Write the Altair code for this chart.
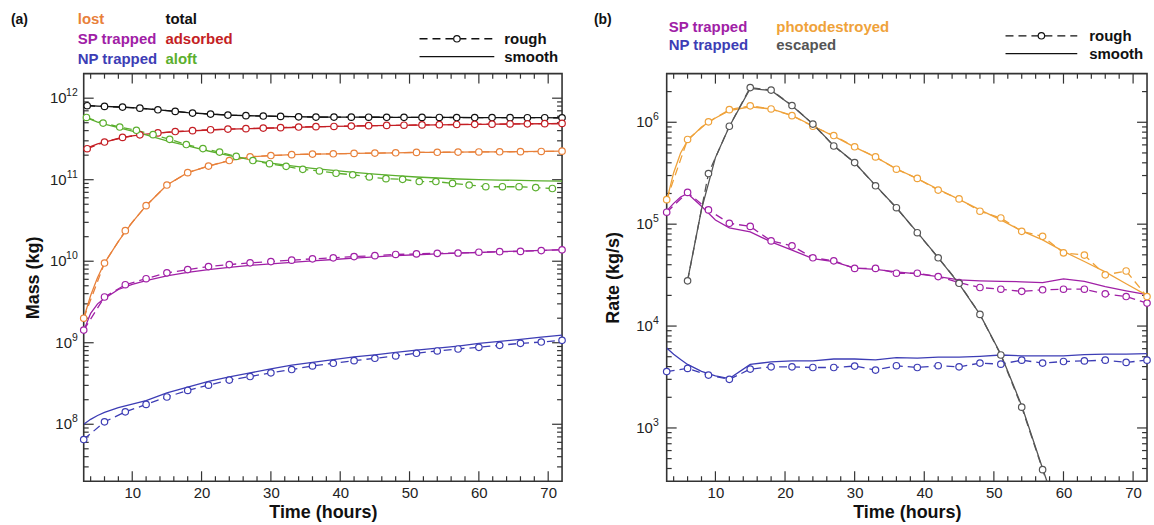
import altair as alt
import pandas as pd

FONT = "Liberation Sans"

# ---------------- panel (a) data ----------------
t_3h = [3, 6, 9, 12, 15, 18, 21, 24, 27, 30, 33, 36, 39, 42, 45, 48, 51, 54, 57, 60, 63, 66, 69, 72]
t_dense = [3.5, 6.0, 8.6, 11.1, 13.7, 16.2, 18.7, 21.3, 23.8, 26.4, 28.9, 31.4, 34.0, 36.5,
           39.1, 41.6, 44.1, 46.7, 49.2, 51.8, 54.3, 56.8, 59.4, 61.9, 64.5, 67.0, 69.5, 72.0]
t_aloft = [3.4, 5.8, 8.2, 10.6, 13.0, 15.4, 17.8, 20.2, 22.6, 25.0, 27.4, 29.8, 32.2, 34.6, 37.0,
           39.4, 41.8, 44.2, 46.6, 49.0, 51.4, 53.8, 56.2, 58.6, 61.0, 63.4, 65.8, 68.2, 70.6]
t_smooth = [3, 4, 5, 6, 8, 10, 12, 15, 18, 21, 24, 27, 30, 33, 36, 39, 42, 45, 48, 51, 54, 57, 60, 63, 66, 69, 72]

total_rough = [8.08e11, 7.93e11, 7.77e11, 7.55e11, 7.21e11, 6.88e11, 6.57e11, 6.38e11, 6.21e11, 6.10e11,
               6.04e11, 5.98e11, 5.90e11, 5.87e11, 5.86e11, 5.85e11, 5.84e11, 5.83e11, 5.82e11, 5.81e11,
               5.80e11, 5.79e11, 5.78e11, 5.78e11, 5.77e11, 5.76e11, 5.76e11, 5.75e11]
adsorbed_rough = [2.4e11, 2.9e11, 3.3e11, 3.55e11, 3.75e11, 3.9e11, 4.0e11, 4.1e11, 4.18e11, 4.23e11,
                  4.3e11, 4.35e11, 4.43e11, 4.47e11, 4.5e11, 4.55e11, 4.6e11, 4.63e11, 4.66e11, 4.7e11,
                  4.73e11, 4.76e11, 4.78e11, 4.8e11, 4.83e11, 4.85e11, 4.87e11, 4.9e11]
aloft_rough = [5.8e11, 4.95e11, 4.43e11, 4.04e11, 3.57e11, 3.13e11, 2.70e11, 2.41e11, 2.18e11, 1.93e11,
               1.72e11, 1.57e11, 1.46e11, 1.34e11, 1.28e11, 1.20e11, 1.15e11, 1.08e11, 1.03e11, 1.01e11,
               9.5e10, 9.5e10, 9.0e10, 8.6e10, 8.2e10, 8.2e10, 8.2e10, 8.0e10, 7.8e10]
lost_rough = [2.0e9, 9.5e9, 2.37e10, 4.8e10, 8.6e10, 1.22e11, 1.47e11, 1.72e11, 1.91e11, 1.98e11, 2.03e11,
              2.06e11, 2.08e11, 2.1e11, 2.12e11, 2.14e11, 2.16e11, 2.17e11, 2.18e11, 2.19e11, 2.2e11,
              2.21e11, 2.22e11, 2.24e11]
sp_rough_a = [1.43e9, 3.64e9, 5.15e9, 6.1e9, 7.2e9, 7.9e9, 8.6e9, 9.1e9, 9.55e9, 9.9e9, 1.03e10, 1.07e10,
              1.10e10, 1.14e10, 1.17e10, 1.21e10, 1.23e10, 1.25e10, 1.26e10, 1.29e10, 1.31e10, 1.32e10,
              1.35e10, 1.38e10]
np_rough_a = [6.5e7, 1.07e8, 1.42e8, 1.75e8, 2.16e8, 2.6e8, 3.02e8, 3.48e8, 3.85e8, 4.27e8, 4.69e8, 5.2e8,
              5.6e8, 6.03e8, 6.45e8, 6.88e8, 7.43e8, 7.93e8, 8.38e8, 8.79e8, 9.3e8, 9.84e8, 1.02e9, 1.07e9]

total_smooth = [8.15e11, 8.1e11, 8.0e11, 7.93e11, 7.8e11, 7.65e11, 7.42e11, 7.05e11, 6.66e11, 6.4e11, 6.2e11,
                6.09e11, 6.01e11, 5.93e11, 5.88e11, 5.86e11, 5.85e11, 5.84e11, 5.83e11, 5.82e11, 5.81e11,
                5.80e11, 5.79e11, 5.78e11, 5.77e11, 5.76e11, 5.75e11]
adsorbed_smooth = [2.25e11, 2.55e11, 2.75e11, 2.9e11, 3.2e11, 3.45e11, 3.62e11, 3.8e11, 3.95e11, 4.07e11,
                   4.17e11, 4.23e11, 4.3e11, 4.37e11, 4.44e11, 4.5e11, 4.55e11, 4.6e11, 4.64e11, 4.68e11,
                   4.71e11, 4.75e11, 4.77e11, 4.8e11, 4.83e11, 4.86e11, 4.88e11]
aloft_smooth = [6.0e11, 5.5e11, 5.1e11, 4.8e11, 4.35e11, 3.95e11, 3.55e11, 3.0e11, 2.6e11, 2.25e11, 1.98e11,
                1.76e11, 1.6e11, 1.48e11, 1.38e11, 1.3e11, 1.23e11, 1.17e11, 1.12e11, 1.08e11, 1.05e11,
                1.02e11, 1.0e11, 9.9e10, 9.8e10, 9.7e10, 9.6e10]
lost_smooth = [2.0e9, 3.8e9, 6.3e9, 9.5e9, 1.75e10, 3.0e10, 4.8e10, 8.6e10, 1.22e11, 1.47e11, 1.72e11, 1.91e11,
               1.98e11, 2.03e11, 2.06e11, 2.08e11, 2.1e11, 2.12e11, 2.14e11, 2.16e11, 2.17e11, 2.18e11,
               2.19e11, 2.2e11, 2.21e11, 2.22e11, 2.24e11]
sp_smooth_a = [1.4e9, 2.3e9, 3.0e9, 3.5e9, 4.5e9, 5.2e9, 5.8e9, 6.6e9, 7.3e9, 7.9e9, 8.4e9, 8.9e9, 9.3e9,
               9.7e9, 1.01e10, 1.05e10, 1.09e10, 1.13e10, 1.17e10, 1.2e10, 1.23e10, 1.26e10, 1.28e10,
               1.31e10, 1.33e10, 1.36e10, 1.39e10]
np_smooth_a = [1.0e8, 1.15e8, 1.28e8, 1.4e8, 1.6e8, 1.77e8, 1.95e8, 2.42e8, 2.86e8, 3.35e8, 3.82e8, 4.27e8,
               4.78e8, 5.3e8, 5.75e8, 6.2e8, 6.7e8, 7.1e8, 7.6e8, 8.1e8, 8.6e8, 9.1e8, 9.8e8, 1.04e9,
               1.1e9, 1.17e9, 1.24e9]

# ---------------- panel (b) data ----------------
t_esc = [6, 9, 12, 15, 18, 21, 24, 27, 30, 33, 36, 39, 42, 45, 48, 51, 54, 57, 60]
t_esc_smooth = [6, 8, 10, 12, 15, 18, 21, 24, 27, 30, 33, 36, 39, 42, 45, 48, 51, 54, 57, 60]

photo_rough = [1.74e5, 6.78e5, 1.01e6, 1.33e6, 1.45e6, 1.35e6, 1.16e6, 9.14e5, 7.41e5, 5.75e5, 4.57e5,
               3.46e5, 2.81e5, 2.16e5, 1.77e5, 1.34e5, 1.15e5, 8.5e4, 7.6e4, 5.23e4, 4.97e4, 3.18e4,
               3.47e4, 1.95e4]
esc_rough = [2.78e4, 3.14e5, 9.14e5, 2.19e6, 2.07e6, 1.46e6, 9.6e5, 5.85e5, 4.02e5, 2.38e5, 1.45e5,
             8.24e4, 4.68e4, 2.63e4, 1.3e4, 5.2e3, 1.6e3, 3.9e2, 1.0e2]
sp_rough_b = [1.31e5, 2.05e5, 1.38e5, 1.02e5, 9.5e4, 6.85e4, 6.13e4, 4.68e4, 4.37e4, 3.68e4, 3.68e4, 3.3e4,
              3.3e4, 3.06e4, 2.67e4, 2.39e4, 2.3e4, 2.19e4, 2.27e4, 2.3e4, 2.3e4, 2.07e4, 1.95e4, 1.68e4]
np_rough_b = [3.58e3, 3.84e3, 3.3e3, 3.0e3, 3.78e3, 3.98e3, 3.98e3, 3.92e3, 3.92e3, 4.05e3, 3.7e3, 4.08e3,
              3.92e3, 4.08e3, 3.98e3, 4.33e3, 4.23e3, 4.63e3, 4.33e3, 4.49e3, 4.55e3, 4.63e3, 4.4e3, 4.63e3]

photo_smooth = [1.7e5, 3.2e5, 5.0e5, 6.6e5, 9.0e5, 1.1e6, 1.3e6, 1.42e6, 1.35e6, 1.17e6, 9.2e5, 7.3e5,
                5.7e5, 4.55e5, 3.5e5, 2.8e5, 2.2e5, 1.75e5, 1.38e5, 1.1e5, 8.6e4, 7.0e4, 5.4e4, 4.3e4,
                3.4e4, 2.6e4, 2.0e4]
esc_smooth = [2.8e4, 1.4e5, 4.5e5, 9.1e5, 2.15e6, 2.05e6, 1.45e6, 9.6e5, 5.9e5, 4.0e5, 2.4e5, 1.45e5,
              8.3e4, 4.7e4, 2.6e4, 1.3e4, 5.3e3, 1.65e3, 4.0e2, 1.0e2]
sp_smooth_b = [1.35e5, 1.6e5, 1.85e5, 2.0e5, 1.5e5, 1.1e5, 9.2e4, 8.4e4, 6.7e4, 5.56e4, 4.6e4, 4.3e4, 3.7e4,
               3.6e4, 3.4e4, 3.25e4, 3.05e4, 2.84e4, 2.78e4, 2.74e4, 2.72e4, 2.67e4, 2.9e4, 2.74e4,
               2.44e4, 2.22e4, 2.03e4]
np_smooth_b = [6.1e3, 5.3e3, 4.7e3, 4.2e3, 3.6e3, 3.25e3, 3.05e3, 4.2e3, 4.45e3, 4.55e3, 4.55e3, 4.75e3,
               4.75e3, 4.65e3, 4.9e3, 4.85e3, 4.95e3, 4.95e3, 5.05e3, 5.2e3, 5.1e3, 5.1e3, 5.1e3, 5.25e3,
               5.3e3, 5.3e3, 5.37e3]

# ---------------- series names / colours ----------------
names_a = ["lost", "SP trapped", "NP trapped", "total", "adsorbed", "aloft"]
colors_a = ["#E8803A", "#A020A6", "#3D3DB5", "#111111", "#C41E24", "#5BAF2E"]
names_b = ["SP trapped", "NP trapped", "photodestroyed", "escaped"]
colors_b = ["#A020A6", "#3D3DB5", "#EFA23A", "#555555"]

# ---------------- tick values ----------------
x_major = [10, 20, 30, 40, 50, 60, 70]
x_minor = [4, 6, 8, 12, 14, 16, 18, 22, 24, 26, 28, 32, 34, 36, 38, 42, 44, 46, 48,
           52, 54, 56, 58, 62, 64, 66, 68]
exps_a = [8, 9, 10, 11, 12]
exps_b = [3, 4, 5, 6]
mult = [2, 3, 4, 5, 6, 7, 8, 9]


def frame(pairs):
    parts = []
    for ts, vs, name in pairs:
        parts.append(pd.DataFrame({"t": ts, "v": vs, "series": name}))
    return pd.concat(parts, ignore_index=True)


smooth_a = frame([(t_smooth, lost_smooth, "lost"), (t_smooth, sp_smooth_a, "SP trapped"),
                  (t_smooth, np_smooth_a, "NP trapped"), (t_smooth, total_smooth, "total"),
                  (t_smooth, adsorbed_smooth, "adsorbed"), (t_smooth, aloft_smooth, "aloft")])
rough_a = frame([(t_3h, lost_rough, "lost"), (t_3h, sp_rough_a, "SP trapped"),
                 (t_3h, np_rough_a, "NP trapped"), (t_dense, total_rough, "total"),
                 (t_dense, adsorbed_rough, "adsorbed"), (t_aloft, aloft_rough, "aloft")])
smooth_b = frame([(t_smooth, sp_smooth_b, "SP trapped"), (t_smooth, np_smooth_b, "NP trapped"),
                  (t_smooth, photo_smooth, "photodestroyed"), (t_esc_smooth, esc_smooth, "escaped")])
rough_b = frame([(t_3h, sp_rough_b, "SP trapped"), (t_3h, np_rough_b, "NP trapped"),
                 (t_3h, photo_rough, "photodestroyed"), (t_esc, esc_rough, "escaped")])

one = pd.DataFrame({"a": [0]})


def text(s, x, y, color, size=15):
    return alt.Chart(one).mark_text(
        text=s, align="left", baseline="middle", font=FONT, fontSize=size,
        fontWeight="bold", color=color
    ).encode(x=alt.value(x), y=alt.value(y))


def legend_lines(x1, x2, xt, y1, y2):
    cx = (x1 + x2) / 2
    return [
        alt.Chart(one).mark_rule(strokeDash=[8, 5], color="#111", strokeWidth=1.3).encode(
            x=alt.value(x1), x2=alt.value(x2), y=alt.value(y1)),
        alt.Chart(one).mark_point(shape="circle", size=42, filled=True, fill="white",
                                  stroke="#111", strokeWidth=1.2, opacity=1).encode(
            x=alt.value(cx), y=alt.value(y1)),
        alt.Chart(one).mark_rule(color="#111", strokeWidth=1.3).encode(
            x=alt.value(x1), x2=alt.value(x2), y=alt.value(y2)),
        text("rough", xt, y1, "#111"),
        text("smooth", xt, y2, "#111"),
    ]


def panel(smooth, rough, names, colors, ydomain, exps, ytitle, W, H, title_pad, lab_gap, extra):
    xs = alt.Scale(domain=[3, 72], nice=False, zero=False)
    ys = alt.Scale(type="log", domain=ydomain, nice=False)
    cscale = alt.Scale(domain=names, range=colors)
    ymajor = [10.0 ** e for e in exps]
    yminor = [m * 10.0 ** e for e in range(exps[0] - 1, exps[-1] + 1) for m in mult]
    yminor = [v for v in yminor if ydomain[0] < v < ydomain[1]]

    xlab = alt.Axis(orient="bottom", values=x_major, format="d", ticks=False, domain=False,
                    labelPadding=4, labelFontSize=15, title="Time (hours)", titleFontSize=18,
                    titleFontWeight="bold", titlePadding=3, grid=False)
    ylab = alt.Axis(orient="left", values=ymajor, labels=False, ticks=False,
                    domain=False, title=ytitle, titleFontSize=18, titleFontWeight="bold",
                    titlePadding=title_pad, grid=False)

    X = lambda: alt.X("t:Q", scale=xs, axis=xlab)
    Y = lambda: alt.Y("v:Q", scale=ys, axis=ylab)

    xt_maj = pd.DataFrame({"t": x_major})
    xt_min = pd.DataFrame({"t": x_minor})
    yt_maj = pd.DataFrame({"v": ymajor})
    yt_min = pd.DataFrame({"v": yminor})
    ylabels = pd.DataFrame({"v": ymajor, "exp": [str(e) for e in exps]})

    def xticks(df, y0, y1):
        return alt.Chart(df).mark_rule(color="#333", strokeWidth=1.2).encode(
            x=X(), y=alt.value(y0), y2=alt.value(y1))

    def yticks(df, x0, x1):
        return alt.Chart(df).mark_rule(color="#333", strokeWidth=1.2).encode(
            y=Y(), x=alt.value(x0), x2=alt.value(x1))

    tick_layers = [
        xticks(xt_maj, H, H - 10), xticks(xt_maj, 0, 10),
        xticks(xt_min, H, H - 5), xticks(xt_min, 0, 5),
        yticks(yt_maj, 0, 10), yticks(yt_maj, W, W - 10),
        yticks(yt_min, 0, 5), yticks(yt_min, W, W - 5),
    ]

    def base_label(ndig, x):
        return alt.Chart(ylabels).transform_filter(f"length(datum.exp) == {ndig}").mark_text(
            text="10", align="right", baseline="middle", font=FONT, fontSize=15, color="#222"
        ).encode(y=Y(), x=alt.value(x))

    label_layers = [
        base_label(1, -lab_gap - 5.8),
        base_label(2, -lab_gap - 11.2),
        alt.Chart(ylabels).mark_text(
            align="right", baseline="middle", font=FONT, fontSize=10.5, color="#222", dy=-5
        ).encode(y=Y(), x=alt.value(-lab_gap), text="exp:N"),
    ]

    rough_line = alt.Chart(rough).mark_line(strokeDash=[8, 5], strokeWidth=1.3, clip=True).encode(
        x=X(), y=Y(), color=alt.Color("series:N", scale=cscale, legend=None))
    smooth_line = alt.Chart(smooth).mark_line(strokeWidth=1.3, clip=True).encode(
        x=X(), y=Y(), color=alt.Color("series:N", scale=cscale, legend=None))
    pts = alt.Chart(rough).transform_filter(f"datum.v >= {ydomain[0]}").mark_point(
        shape="circle", size=42, filled=True, fill="white", strokeWidth=1.2, opacity=1
    ).encode(x=X(), y=Y(), stroke=alt.Stroke("series:N", scale=cscale, legend=None))

    layers = tick_layers + label_layers + [rough_line, smooth_line, pts] + extra
    return alt.layer(*layers).resolve_scale(color="independent", stroke="independent").properties(
        width=W, height=H)


anchor = alt.Chart(one).mark_point(size=1, strokeWidth=0, opacity=0).encode(
    x=alt.value(-82.5), y=alt.value(-71.5))

extra_a = [
    anchor,
    text("(a)", -73, -54, "#111", 14),
    text("lost", -6, -55, "#E8803A"),
    text("SP trapped", -6, -35, "#A020A6"),
    text("NP trapped", -6, -15, "#3D3DB5"),
    text("total", 82, -55, "#111"),
    text("adsorbed", 82, -35, "#C41E24"),
    text("aloft", 82, -15, "#5BAF2E"),
] + legend_lines(337, 412, 422, -35, -17)

extra_b = [
    text("(b)", -73, -54, "#111", 14),
    text("SP trapped", 2, -47, "#A020A6"),
    text("NP trapped", 2, -29, "#3D3DB5"),
    text("photodestroyed", 110, -47, "#EFA23A"),
    text("escaped", 110, -29, "#555555"),
] + legend_lines(340, 412, 424, -38, -20)

left = panel(smooth_a, rough_a, names_a, colors_a, [2e7, 2e12], exps_a,
             "Mass (kg)", 480, 409, 41, 6, extra_a)
right = panel(smooth_b, rough_b, names_b, colors_b, [3e2, 3e6], exps_b,
              "Rate (kg/s)", 482, 409, 44, 8, extra_b)

chart = alt.hconcat(left, right, spacing=105, bounds="flush").resolve_scale(
    color="independent", stroke="independent"
).properties(
    padding=0
).configure_axis(
    labelFont=FONT, titleFont=FONT, labelColor="#222", titleColor="#111"
).configure_view(stroke="#333", strokeWidth=1.6)

chart.save("out.html", embed_options={"renderer": "svg", "actions": False})
